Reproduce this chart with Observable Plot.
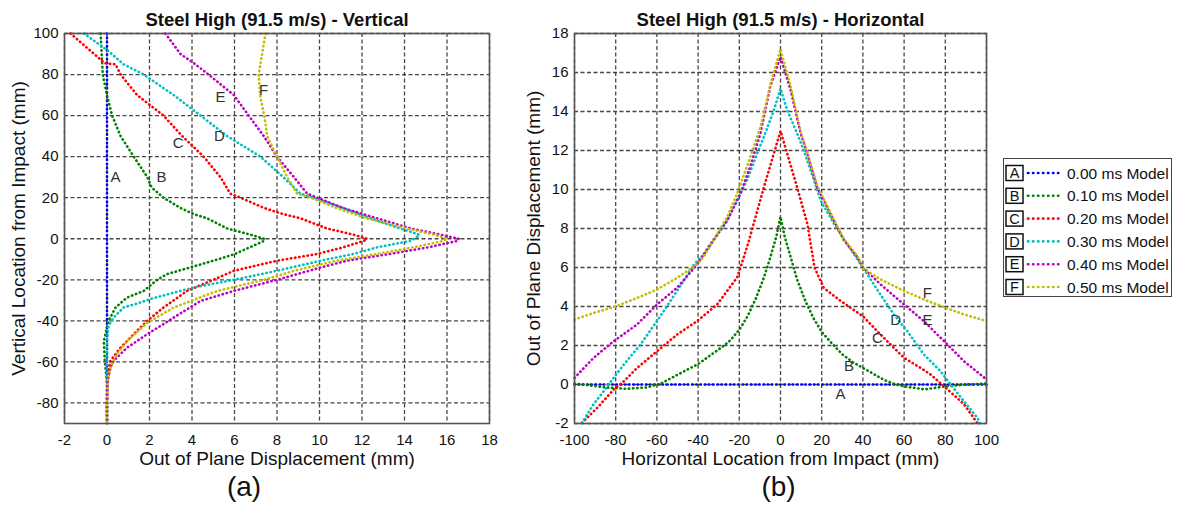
<!DOCTYPE html>
<html><head><meta charset="utf-8">
<script src="https://cdn.jsdelivr.net/npm/d3@7"></script>
<script src="https://cdn.jsdelivr.net/npm/@observablehq/plot@0.6"></script>
<style>
body{margin:0;background:#fff;width:1192px;height:516px;overflow:hidden;font-family:"Liberation Sans",Arial,sans-serif;}
#wrap{position:relative;width:1192px;height:516px;}
.panel{position:absolute;top:0;}
#legend{position:absolute;left:1003px;top:158px;}
</style></head><body><div id="wrap"></div>
<script>
// ---- series meta ----
const seriesNames = ["A","B","C","D","E","F"];
const seriesLabels = ["0.00 ms Model","0.10 ms Model","0.20 ms Model","0.30 ms Model","0.40 ms Model","0.50 ms Model"];
const seriesColors = ["#0000ff","#008000","#ff0000","#00bfbf","#bf00bf","#bfbf00"];

// ---- panel (a): vertical profiles [displacement mm, vertical location mm] ----
const vA = [[0,100],[0,-90]];
const vB = [[-0.3,100],[-0.2,80],[0,70],[0.24,60],[0.64,50],[1.26,40],[1.9,30],[2.1,25],[2.66,20],[3.46,15],[4.08,12],[4.7,10],[5.66,5],[6.75,2],[7.4,0],[7.4,-1],[6.0,-7.5],[5.0,-10.7],[3.9,-14],[2.83,-17.2],[2.36,-20],[1.73,-25.4],[0.95,-28.6],[0.4,-33.5],[0.07,-40],[0,-43],[-0.15,-50],[-0.1,-60],[0,-70],[0,-90]];
const vC = [[-1.72,100],[-0.1,85.5],[0.4,85],[0.64,80],[1.42,70],[2.66,60],[3.54,50],[4.55,40],[5.34,30],[5.8,22],[6.28,20],[7.39,15],[8.3,12],[9.1,10],[10.36,5],[11.6,2],[12.24,0],[12.1,-1],[11.1,-4.2],[9.9,-7.4],[8.0,-10.7],[5.97,-15.6],[5.0,-20],[3.77,-25.4],[2.66,-33.5],[1.89,-40],[1.26,-46.5],[0.64,-53],[0.16,-59.5],[0.03,-66],[0,-75],[0,-90]];
const vD = [[-1.09,100],[0,92],[0.78,85],[1.73,80],[3.14,70],[4.4,60],[5.66,50],[7.22,40],[8.3,30],[9.1,22],[9.74,20],[11.1,15],[12.4,10],[13.8,5],[14.7,2],[14.6,1],[14.3,-1],[12.7,-4.2],[11.6,-7.4],[10.05,-10.7],[8.0,-15.6],[5.97,-20],[4.08,-23.7],[3.46,-25.4],[2.05,-29.3],[1.58,-31],[0.78,-33.5],[0.31,-38.4],[0.07,-42.4],[0,-50],[0,-90]];
const vE = [[2.75,100],[3.46,90],[4.16,85],[4.78,80],[5.97,70],[6.67,60],[7.38,50],[8.0,40],[8.8,30],[9.42,22],[9.9,20],[11.1,15],[12.7,10],[14.3,5],[15.7,2],[16.55,0],[16.5,-1],[15.1,-4.2],[13.3,-7.4],[11.3,-10.7],[10.05,-14],[8.0,-20],[5.97,-25.4],[4.4,-30.3],[3.14,-38.4],[1.89,-46.5],[0.95,-53],[0.31,-59.5],[0.16,-62.8],[0.03,-69],[0,-80],[0,-90]];
const vF = [[7.46,100],[7.3,90],[7.14,80],[7.2,70],[7.4,60],[7.54,50],[8.0,40],[8.48,30],[8.95,22],[9.58,20],[10.8,15],[12.2,10],[14.1,5],[15.4,2],[16.0,0],[15.85,-1],[14.4,-4.2],[12.7,-7.4],[10.8,-10.7],[8.8,-15.6],[7.4,-20],[5.2,-25.4],[3.14,-33.5],[1.89,-41],[0.95,-49.8],[0.48,-56],[0.16,-62.8],[0.03,-69],[0,-80],[0,-90]];
const vLabelPos = [[0.4,30],[2.56,30],[3.35,46.5],[5.29,50],[5.34,69],[7.37,72.5]];
const vXTicks = [-2,0,2,4,6,8,10,12,14,16,18];
const vYTicks = [-80,-60,-40,-20,0,20,40,60,80,100];

// ---- panel (b): horizontal profiles [horizontal location mm, displacement mm] ----
const hA = [[-100,0],[100,0]];
const hB = [[-100,0.05],[-85,-0.15],[-75,-0.22],[-65,-0.15],[-58,0.05],[-50,0.5],[-40,1.05],[-30,1.8],[-25,2.2],[-20,2.8],[-16,3.5],[-12,4.4],[-8,5.5],[-5,6.5],[-2,7.6],[0,8.6],[2,7.6],[5,6.5],[8,5.4],[12,4.3],[16,3.4],[20,2.7],[25,2.1],[30,1.55],[35,1.15],[40,0.85],[50,0.25],[56,0],[60,-0.1],[70,-0.25],[80,-0.1],[90,0],[100,0.05]];
const hC = [[-96.4,-1.97],[-89,-1.2],[-81,-0.26],[-76,0.17],[-69.6,0.85],[-60,1.7],[-50.2,2.56],[-40.5,3.25],[-30.8,4.1],[-21,5.5],[-19.4,6.0],[-15.4,7.35],[-13,8.25],[-8.1,10.1],[-3.2,11.85],[0,13.0],[3.2,11.85],[8.1,10.1],[13,8.25],[14.5,7.3],[16.5,6.0],[21,4.95],[29,4.3],[40,3.5],[48.6,2.56],[55,1.88],[60,1.37],[68,0.85],[72.9,0.51],[80.2,-0.17],[89,-1.0],[95.5,-1.97]];
const hD = [[-96.4,-1.97],[-90.7,-1.0],[-85.8,-0.34],[-81,0.34],[-76,1.03],[-68,2.05],[-60,3.25],[-50.2,4.8],[-42,6.15],[-37,6.7],[-32.4,7.4],[-25.9,8.4],[-21,9.45],[-16.2,10.5],[-11.3,11.85],[-8.1,12.7],[-3.2,14.07],[0,15.18],[3.2,14.07],[8.1,12.87],[11.3,12.0],[16.2,10.5],[19.4,9.45],[25.9,8.26],[32.4,7.2],[40,6.0],[48.6,4.6],[55,3.6],[61.5,2.74],[69.6,1.54],[77.7,0.68],[82.6,0],[89,-0.85],[95.5,-1.7],[97,-2]];
const hE = [[-100,0.34],[-90.7,1.37],[-81,2.22],[-69.6,3.08],[-60,4.1],[-50.2,4.96],[-40.5,6.15],[-34,7.2],[-25.9,8.4],[-19.4,9.8],[-14.6,11.2],[-9.7,12.9],[-4.9,15.3],[0,16.8],[4.9,15.1],[9.7,12.9],[13,11.85],[17.8,10.1],[21,9.45],[25.9,8.4],[30.8,7.4],[37.2,6.55],[40,6.0],[48.6,5.13],[60,4.1],[69.6,3.25],[79.4,2.22],[89,1.2],[100,0.26]];
const hF = [[-100,3.33],[-90.7,3.67],[-80,4.0],[-69.6,4.44],[-60,4.87],[-50.2,5.47],[-40,6.2],[-37,6.6],[-30.8,7.7],[-25.9,8.6],[-21,9.8],[-16.2,11.2],[-9.7,13.2],[-4.9,15.4],[0,17.2],[4.9,15.3],[9.7,13.0],[13,11.9],[17.8,10.2],[21,9.5],[25.9,8.45],[30.8,7.45],[37.2,6.6],[40.5,5.9],[50.2,5.3],[60,4.8],[69.6,4.36],[80.2,3.93],[89,3.6],[100,3.25]];
const hLabelPos = [[29.1,-0.5],[33.2,0.94],[47,2.39],[55.9,3.28],[71.3,3.28],[71.3,4.7]];
const hXTicks = [-100,-80,-60,-40,-20,0,20,40,60,80,100];
const hYTicks = [-2,0,2,4,6,8,10,12,14,16,18];

// ---- build tables ----
function toRows(arrs){
  const rows=[];
  arrs.forEach((a,i)=>a.forEach(p=>rows.push({s:seriesNames[i],x:p[0],y:p[1]})));
  return rows;
}
const vRows = toRows([vA,vB,vC,vD,vE,vF]);
const hRows = toRows([hA,hB,hC,hD,hE,hF]);
const vLab = vLabelPos.map((p,i)=>({t:seriesNames[i],x:p[0],y:p[1]}));
const hLab = hLabelPos.map((p,i)=>({t:seriesNames[i],x:p[0],y:p[1]}));

const font = "Liberation Sans, Arial, sans-serif";
const gridStyle = {stroke:"#333", strokeOpacity:0.9, strokeDasharray:"4,2.5", strokeWidth:1.3};
const fmt = d => String(d);

function makePanel(cfg){
  return Plot.plot({
    width:cfg.width, height:516,
    marginLeft:cfg.ml, marginRight:cfg.mr, marginTop:33, marginBottom:93,
    x:{domain:cfg.xd}, y:{domain:cfg.yd},
    color:{domain:seriesNames, range:seriesColors},
    style:{fontFamily:font, fontSize:"15px", color:"#000", background:"transparent", overflow:"visible"},
    marks:[
      Plot.gridX(cfg.xt, gridStyle),
      Plot.gridY(cfg.yt, gridStyle),
      Plot.line(cfg.rows,{x:"x",y:"y",z:"s",stroke:"s",strokeWidth:2.6,strokeLinecap:"round",strokeDasharray:"0.4,3.8"}),
      Plot.frame({stroke:"#555", strokeWidth:1.6}),
      Plot.axisX(cfg.xt,{tickSize:0, tickPadding:11, fontSize:15, tickFormat:fmt, label:null, fill:"#111"}),
      Plot.axisY(cfg.yt,{tickSize:0, tickPadding:6, fontSize:15, tickFormat:fmt, label:null, fill:"#111"}),
      Plot.text(cfg.lab,{x:"x",y:"y",text:"t",fontSize:15,fill:"#333"}),
      Plot.text([cfg.title],{frameAnchor:"top", dy:-21, fontWeight:"bold", fontSize:18.5, fill:"#111", textAnchor:"middle"}),
      Plot.text([cfg.xlabel],{frameAnchor:"bottom", dy:41, fontSize:19, fill:"#111", textAnchor:"middle"}),
      Plot.text([cfg.ylabel],{frameAnchor:"left", dx:cfg.ydx, rotate:-90, fontSize:19, fill:"#111", textAnchor:"middle"}),
      Plot.text([cfg.tag],{frameAnchor:"bottom", dy:72, dx:cfg.tagdx, fontSize:28, fill:"#111", textAnchor:"middle"})
    ]
  });
}

const wrap = document.getElementById("wrap");
const p1 = makePanel({width:500, ml:64, mr:11, xd:[-2,18], yd:[-90,100], xt:vXTicks, yt:vYTicks, rows:vRows, lab:vLab,
  title:"Steel High (91.5 m/s) - Vertical", xlabel:"Out of Plane Displacement (mm)", ylabel:"Vertical Location from Impact (mm)", ydx:-46, tag:"(a)", tagdx:-33});
p1.classList.add("panel"); p1.style.left="0px";
wrap.appendChild(p1);

const p2 = makePanel({width:470, ml:44, mr:14, xd:[-100,100], yd:[-2,18], xt:hXTicks, yt:hYTicks, rows:hRows, lab:hLab,
  title:"Steel High (91.5 m/s) - Horizontal", xlabel:"Horizontal Location from Impact (mm)", ylabel:"Out of Plane Displacement (mm)", ydx:-41, tag:"(b)", tagdx:-2});
p2.classList.add("panel"); p2.style.left="530px";
wrap.appendChild(p2);

// ---- legend ----
const lw=169, lh=139, rowH=22.8;
const lg = d3.select(wrap).append("svg").attr("id","legend").attr("width",lw).attr("height",lh)
  .style("font-family",font);
lg.append("rect").attr("x",0.5).attr("y",0.5).attr("width",lw-1).attr("height",lh-1).attr("fill","#fff").attr("stroke","#444");
seriesNames.forEach((n,i)=>{
  const cy = 15 + i*rowH;
  const g = lg.append("g");
  g.append("rect").attr("x",3).attr("y",cy-7.5).attr("width",17).attr("height",15).attr("fill","#fff").attr("stroke","#111").attr("stroke-width",1.5);
  g.append("text").attr("x",11.5).attr("y",cy).attr("dy","0.36em").attr("text-anchor","middle").attr("font-size",14.5).attr("fill","#111").text(n);
  g.append("line").attr("x1",25).attr("x2",57).attr("y1",cy).attr("y2",cy).attr("stroke",seriesColors[i]).attr("stroke-width",2.6).attr("stroke-linecap","round").attr("stroke-dasharray","0.4,4.6");
  g.append("text").attr("x",64).attr("y",cy).attr("dy","0.36em").attr("font-size",15.5).attr("fill","#111").text(seriesLabels[i]);
});
</script>
</body></html>
